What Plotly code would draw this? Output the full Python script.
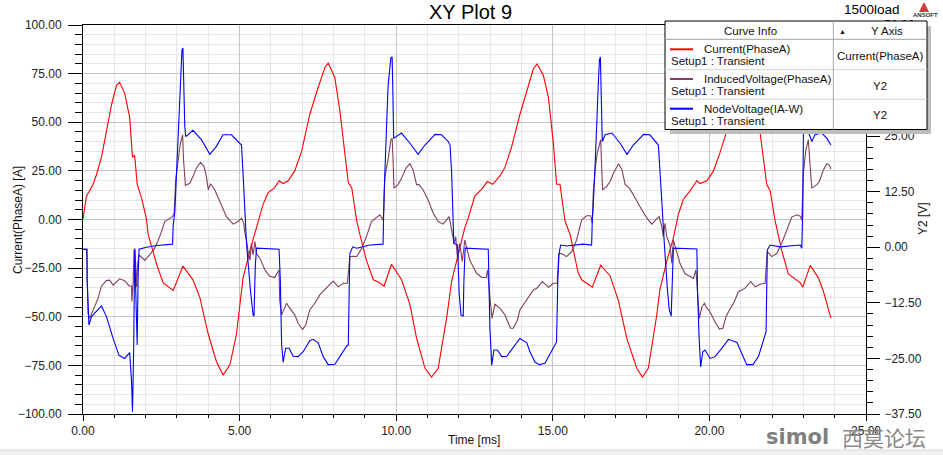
import plotly.graph_objects as go

# ---------------- data ----------------
time_current = [0.0, 0.03, 0.11, 0.32, 0.43, 0.59, 0.75, 0.91, 1.07, 1.17, 1.33, 1.49, 1.58, 1.65, 1.73, 1.87,
                2.03, 2.08, 2.35, 2.56, 2.88, 3.19, 3.51, 3.73, 4.0, 4.26, 4.47, 4.69, 4.9, 5.11, 5.33, 5.59,
                5.75, 5.91, 6.12, 6.26, 6.39, 6.55, 6.76, 6.98, 7.24, 7.51, 7.72, 7.83, 8.04, 8.2, 8.36, 8.47,
                8.58, 8.74, 8.84, 9.05, 9.27, 9.48, 9.61, 9.85, 10.17, 10.44, 10.65, 10.92, 11.13, 11.34, 11.61,
                11.77, 11.98, 12.19, 12.27, 12.45, 12.51, 12.73, 12.91, 13.08, 13.31, 13.47, 13.68, 13.95, 14.22,
                14.38, 14.5, 14.7, 14.86, 15.02, 15.12, 15.23, 15.39, 15.55, 15.81, 15.92, 16.26, 16.53, 16.83,
                17.1, 17.36, 17.68, 17.86, 18.05, 18.32, 18.42, 18.64, 18.85, 19.01, 19.17, 19.38, 19.6, 19.7,
                19.92, 20.13, 20.34, 20.56, 20.8, 21.0, 21.15, 21.25, 21.4, 21.62, 21.83, 21.94, 22.1, 22.31,
                22.52, 22.9, 22.98, 23.22, 23.48, 23.64, 23.75, 23.88]
current_phaseA = [0, 4, 12, 18, 23, 32, 46, 59, 69, 70.5, 65, 52.5, 32, 33, 18, 11,
                  0, -7.6, -23, -32.6, -36.5, -24, -31, -40, -59, -73, -80, -74.7, -59, -30, -16, -1,
                  7.8, 13.8, 16.4, 19.9, 18.5, 19.9, 25, 35, 54, 68, 78, 80.4, 73, 56, 35, 19,
                  16.4, -0.8, -7.6, -21, -31, -32.6, -34.3, -23, -31, -43.8, -61, -76.5, -81, -76.5, -50.7,
                  -31.7, -18, -4.2, -0.8, 9.5, 12, 15.6, 19.5, 18.1, 22.4, 26.7, 37, 54, 69,
                  77.5, 80, 74, 62.8, 38.8, 18.1, 18.1, -0.8, -7.6, -27.4, -31, -34.8, -23.5, -29,
                  -42, -61, -76.5, -81, -76.5, -49, -36, -21.4, -9.4, 2.7, 10.4, 14.7, 19.9, 18.5,
                  19.9, 25, 34.5, 45.7, 60, 72, 79, 80, 72, 45.7, 18.1, 14.7, -0.8, -16,
                  -28, -32.6, -34.8, -23.6, -30, -36.9, -43.8, -50.7]

time_induced = [0, 0.11, 0.13, 0.16, 0.21, 0.32, 0.48, 0.59, 0.75, 0.85, 0.96, 1.17, 1.33, 1.47, 1.55, 1.56,
                1.6, 1.63, 1.66, 1.71, 1.74, 1.79, 1.97, 2.13, 2.29, 2.45, 2.61, 2.77, 2.86, 2.91, 2.96, 3.04,
                3.11, 3.18, 3.21, 3.27, 3.41, 3.51, 3.62, 3.75, 3.86, 3.94, 4.0, 4.07, 4.21, 4.37, 4.58, 4.79,
                4.95, 5.06, 5.13, 5.17, 5.22, 5.27, 5.33, 5.38, 5.43, 5.49, 5.54, 5.65, 5.81, 5.96, 6.12, 6.26,
                6.28, 6.34, 6.41, 6.5, 6.6, 6.76, 6.87, 7.01, 7.11, 7.24, 7.4, 7.56, 7.78, 7.99, 8.15, 8.31,
                8.44, 8.47, 8.52, 8.63, 8.74, 8.9, 9.05, 9.21, 9.48, 9.58, 9.61, 9.64, 9.74, 9.83, 9.87, 9.9,
                9.93, 10.06, 10.17, 10.31, 10.44, 10.54, 10.65, 10.73, 10.86, 11.02, 11.18, 11.34, 11.5, 11.69,
                11.74, 11.79, 11.85, 11.9, 11.96, 12.03, 12.11, 12.19, 12.27, 12.35, 12.57, 12.73, 12.87, 12.92,
                12.96, 13.02, 13.06, 13.15, 13.31, 13.47, 13.65, 13.74, 13.87, 13.95, 14.17, 14.38, 14.49, 14.67,
                14.86, 15.02, 15.14, 15.19, 15.28, 15.44, 15.6, 15.76, 15.92, 16.08, 16.21, 16.26, 16.29, 16.35,
                16.42, 16.49, 16.53, 16.56, 16.59, 16.72, 16.83, 16.94, 17.1, 17.21, 17.31, 17.45, 17.63, 17.9,
                18.05, 18.16, 18.3, 18.4, 18.48, 18.53, 18.58, 18.64, 18.74, 18.8, 18.85, 18.96, 19.06, 19.22,
                19.38, 19.49, 19.57, 19.62, 19.68, 19.76, 19.84, 19.92, 20.02, 20.18, 20.32, 20.43, 20.53, 20.64,
                20.77, 20.93, 21.14, 21.32, 21.46, 21.62, 21.78, 21.82, 21.85, 21.99, 22.15, 22.31, 22.47, 22.63,
                22.79, 22.9, 22.95, 22.98, 23.0, 23.08, 23.16, 23.21, 23.27, 23.43, 23.51, 23.64, 23.75, 23.83, 23.88]
induced_voltage = [-0.45, -0.45, -4.4, -14.9, -16, -14.1, -11.5, -8.7, -7.5, -7.4, -8.5, -7.1, -7.5, -8.7, -8.7, -12.2,
                   -8.1, -0.6, -0.3, -8.9, -4, -1.7, -2.9, -1.7, -0.2, 2.4, 5.8, 6.5, 6.9, 7.7, 15.2, 19.7,
                   23.4, 25.3, 19.7, 13.9, 14.4, 15.9, 17.8, 19.1, 18.2, 15.9, 12.9, 14.3, 12.9, 10.3, 6.9, 5.2,
                   5.8, 6.5, 5.5, 3.2, 1.6, -1, -2.9, 0.9, -1.7, 1.3, -1.4, -2.5, -5.1, -6.5, -6.8, -5.1,
                   -11.9, -15.2, -14.1, -12.6, -13.7, -15.2, -17.1, -18.5, -17.5, -14.1, -12.6, -10.7, -9.1, -7.6, -8.9, -8.1,
                   -8.1, -5.9, -2.1, -2, -2.1, -0.2, 2.4, 5.8, 7.3, 6.1, 9.1, 15.9, 19.7, 24.2, 24.5, 19.7,
                   13.3, 14.1, 15.5, 17.8, 18.8, 17.4, 14.1, 14.1, 12.9, 10.65, 7.7, 5.8, 5.2, 6.9,
                   5, 3.2, 0.9, 2.4, -2.9, 0.9, -3.2, 1.6, -0.6, -2.9, -5.9, -6.8, -6.8, -5.1,
                   -8.9, -12.6, -16, -12.8, -13.7, -15.2, -18.2, -18.2, -16.4, -14.1, -11.9, -9.6, -9.2, -7.7,
                   -9, -8.1, -8.1, -1.4, -1.4, -2.1, -1, 1.6, 6.1, 7.1, 7.1, 5.4, 12.2, 17.4,
                   21.2, 23.6, 24.2, 18.2, 12.9, 13.7, 14.8, 16.7, 18.8, 17.4, 14.1, 13.3, 11, 7.7,
                   6.1, 5.2, 6.3, 6.9, 4.6, 2.4, 5.4, 2.4, 0.5, -3.6, 1.6, -1.4, -3.6, -5.9,
                   -6.6, -7, -5.1, -9.6, -16, -13.4, -12.6, -13.7, -14.5, -16.8, -18.4, -18.2, -15.6, -14.1,
                   -12.6, -10, -9.2, -7.7, -8.9, -8.3, -8.1, -3.6, -1, -2.1, -1.4, 0.9, 3.9, 6.8,
                   7.3, 7, 6.1, 11.4, 16.7, 21.9, 24.2, 18.9, 13.3, 14.1, 14.8, 17.4, 18.8, 18.5, 17.6]

time_node = [0, 0.13, 0.13, 0.16, 0.19, 0.27, 0.59, 0.75, 0.96, 1.15, 1.33, 1.49, 1.55, 1.58, 1.62, 1.65,
             1.71, 1.73, 1.76, 1.79, 2.03, 2.35, 2.86, 2.88, 2.93, 2.96, 3.0, 3.07, 3.11, 3.16, 3.19, 3.21,
             3.25, 3.28, 3.51, 3.78, 4.05, 4.26, 4.47, 4.74, 5.01, 5.06, 5.11, 5.14, 5.17, 5.22, 5.35, 5.43,
             5.46, 5.5, 5.54, 6.26, 6.3, 6.34, 6.39, 6.47, 6.58, 6.71, 6.87, 7.03, 7.24, 7.35, 7.51, 7.67,
             7.83, 8.04, 8.2, 8.42, 8.47, 8.49, 8.52, 8.61, 8.74, 9.16, 9.58, 9.61, 9.64, 9.69, 9.74, 9.83,
             9.87, 9.89, 9.92, 10.17, 10.44, 10.7, 10.92, 11.24, 11.45, 11.66, 11.72, 11.77, 11.82, 11.84, 11.96,
             12.01, 12.07, 12.14, 12.16, 12.2, 12.94, 12.96, 12.99, 13.05, 13.12, 13.23, 13.37, 13.53, 13.74,
             13.95, 14.17, 14.27, 14.43, 14.57, 14.75, 14.91, 15.12, 15.16, 15.2, 15.25, 15.44, 15.97, 16.24,
             16.26, 16.29, 16.35, 16.4, 16.45, 16.49, 16.52, 16.54, 16.58, 16.67, 16.89, 17.15, 17.37, 17.57,
             17.9, 18.1, 18.37, 18.42, 18.48, 18.53, 18.56, 18.66, 18.72, 18.78, 18.82, 18.85, 19.6, 19.62,
             19.67, 19.72, 19.79, 19.86, 20.02, 20.18, 20.4, 20.61, 20.88, 21.04, 21.19, 21.39, 21.57, 21.81,
             21.85, 21.94, 22.26, 22.9, 22.95, 22.98, 23.0, 23.04, 23.08, 23.12, 23.16, 23.27, 23.37, 23.59,
             23.75, 23.88]
node_voltage = [-0.45, -0.45, -7, -15.2, -17.5, -15.6, -13.2, -15.6, -20.5, -24.3, -25, -23.7, -30.3, -37, -22, -0.6,
                -15.6, -22, -6.6, -0.45, 0, 0.4, 0.7, 5, 7.7, 12.2, 19.7, 28.7, 36.2, 44.4, 44.8, 36.2,
                27.2, 24.9, 26.3, 24.2, 20.9, 22.7, 25.3, 25.3, 23.4, 23, 16.7, 12.2, 6.1, 0.9, -10, -15.2,
                -15.5, -4.4, -0.2, -0.45, -7.4, -21.6, -25.9, -22.7, -22.7, -24.5, -24.6, -23.5, -21, -20.7, -21.5, -24.6,
                -26.4, -26.3, -24.6, -22.2, -22, -13.4, -1.4, 0.1, -0.2, 0.5, 0.7, 11.4, 17.4, 28.7, 36.2, 42.6,
                42.8, 36.2, 24.5, 25.7, 23.4, 20.9, 23, 25.4, 25.3, 23.8, 23, 16.7, 6.1, 0.9, 0.5,
                -10.4, -15.2, -15.5, -8.1, -0.2, -0.45, -8.9, -17.9, -26.5, -23.1, -23.1, -24.6, -24.5, -22.4,
                -20.5, -21.5, -23.5, -25.8, -26.4, -26.1, -23.9, -21.3, -7.4, -1.4, 0.5, 0.3, 0.7, 0.5,
                6.1, 9.1, 18.1, 28.7, 36.2, 42.2, 42.8, 36.2, 23.8, 25.3, 25.7, 23.4, 20.9, 23,
                25.4, 25.3, 23, 17.4, 9.1, 3.9, 0.9, -9.6, -14.1, -15.5, -7.4, -0.2, -0.4, -9.6,
                -20.1, -26.9, -23.5, -23.1, -25, -24.6, -22.7, -20.7, -21.4, -23.9, -26.4, -26.4, -24.5, -19,
                -0.6, 0.5, 0.1, 0.5, -0.2, 8.4, 24.2, 36, 43, 36, 26, 23.8, 25.3, 25.7,
                24.5, 23]

curve_names = ["Current(PhaseA)", "InducedVoltage(PhaseA)", "NodeVoltage(IA-W)"]
curve_axes = ["Current(PhaseA)", "Y2", "Y2"]
curve_colors = ["#ff0000", "#7f3f62", "#0000ff"]

# ---------------- geometry helpers (pixels -> paper) ----------------
W, H = 943, 455
ML, MR, MT, MB = 83, 77, 25, 41
PW, PH = W - ML - MR, H - MT - MB


def px(x):
    return (x - ML) / PW


def py(y):
    return (H - MB - y) / PH


FONT = "Liberation Sans, Arial, Helvetica, sans-serif"

fig = go.Figure()
fig.add_trace(go.Scatter(x=time_current, y=current_phaseA, mode="lines", name=curve_names[0],
                         line=dict(color=curve_colors[0], width=1.1), yaxis="y"))
fig.add_trace(go.Scatter(x=time_induced, y=induced_voltage, mode="lines", name=curve_names[1],
                         line=dict(color=curve_colors[1], width=1.1), yaxis="y2"))
fig.add_trace(go.Scatter(x=time_node, y=node_voltage, mode="lines", name=curve_names[2],
                         line=dict(color=curve_colors[2], width=1.1), yaxis="y2"))

tickfont = dict(family=FONT, size=12, color="#222222")
major_grid = "#c4c4c4"
minor_grid = "#e6e6e6"

fig.update_layout(
    width=W, height=H,
    margin=dict(l=ML, r=MR, t=MT, b=MB),
    paper_bgcolor="white", plot_bgcolor="white",
    showlegend=False,
    font=dict(family=FONT, size=12, color="#222222"),
    xaxis=dict(range=[0, 25], tick0=0, dtick=5, tickformat=".2f", tickfont=tickfont,
               showline=True, linecolor="black", linewidth=1, mirror=True,
               ticks="outside", ticklen=6, tickcolor="black",
               showgrid=True, gridcolor=major_grid, gridwidth=1, zeroline=False,
               minor=dict(dtick=1, ticks="outside", ticklen=3, tickcolor="black",
                          showgrid=True, gridcolor=minor_grid)),
    yaxis=dict(range=[-100, 100], tick0=0, dtick=25, tickformat=".2f", tickfont=tickfont,
               showline=True, linecolor="black", linewidth=1,
               ticks="outside", ticklen=14, tickcolor="black", ticklabelstandoff=4,
               showgrid=True, gridcolor=major_grid, gridwidth=1, zeroline=False,
               minor=dict(dtick=5, ticks="outside", ticklen=7, tickcolor="black",
                          showgrid=True, gridcolor=minor_grid)),
    yaxis2=dict(range=[-37.5, 50], tick0=0, dtick=12.5, tickformat=".2f", tickfont=tickfont,
                overlaying="y", side="right", anchor="x",
                showline=True, linecolor="black", linewidth=1,
                ticks="outside", ticklen=13, tickcolor="black", ticklabelstandoff=2,
                showgrid=False, zeroline=False,
                minor=dict(dtick=2.5, ticks="outside", ticklen=6, tickcolor="black", showgrid=False)),
)

shapes = []
annotations = []


def text(x, y, s, size=12, anchor="center", color="#111111", angle=0, family=FONT):
    annotations.append(dict(x=px(x), y=py(y), xref="paper", yref="paper", text=s, showarrow=False,
                            xanchor=anchor, yanchor="middle", textangle=angle,
                            font=dict(family=family, size=size, color=color)))


def rect(x0, y0, x1, y1, fill, line=None, lw=0):
    shapes.append(dict(type="rect", xref="paper", yref="paper", x0=px(x0), x1=px(x1), y0=py(y1), y1=py(y0),
                       fillcolor=fill, line=dict(color=line or fill, width=lw), layer="above"))


def hline(x0, x1, y, color, width=1):
    shapes.append(dict(type="line", xref="paper", yref="paper", x0=px(x0), x1=px(x1), y0=py(y), y1=py(y),
                       line=dict(color=color, width=width), layer="above"))


def vline(x, y0, y1, color, width=1):
    shapes.append(dict(type="line", xref="paper", yref="paper", x0=px(x), x1=px(x), y0=py(y0), y1=py(y1),
                       line=dict(color=color, width=width), layer="above"))


# titles
text(470, 12, "XY Plot 9", size=20, color="#000000")
text(872, 10, "1500load", size=13.5, color="#000000")
text(18, 220, "Current(PhaseA) [A]", size=12, angle=-90)
text(923, 219, "Y2 [V]", size=12, angle=-90)
text(474, 440, "Time [ms]", size=12)

# ANSOFT logo
shapes.append(dict(type="path", xref="paper", yref="paper",
                   path=f"M {px(919)} {py(12)} L {px(929)} {py(12)} L {px(924)} {py(2)} Z",
                   fillcolor="#d23a3a", line=dict(color="#d23a3a", width=0), layer="above"))
text(925, 15.5, "<b>ANSOFT</b>", size=6, color="#333333")

# legend table
rect(670, 26, 931, 134, "#bdbdbd")
rect(665, 21, 927, 129.5, "white", "black", 1)
hline(665, 927, 39.3, "#a0a0a0")
hline(665, 927, 69.7, "#d2d2d2")
hline(665, 927, 99.3, "#d2d2d2")
vline(833.3, 21, 129.5, "#a8a8a8")
text(750, 31, "Curve Info", size=11.5)
text(842, 31, "▲", size=7)
text(887, 31, "Y Axis", size=11.5)
row_y = [49.3, 79, 108.7]
for i in range(3):
    hline(670, 693, row_y[i], curve_colors[i], 2)
    text(701.5, row_y[i], curve_names[i], size=11.5, anchor="left")
    text(669, row_y[i] + 12, "Setup1 : Transient", size=11.5, anchor="left")
    text(880, row_y[i] + 6.5, curve_axes[i], size=11.5)

# watermark
text(797, 437, "<b>simol</b>", size=21, color="#808080", family="DejaVu Sans, sans-serif")
text(884, 437, "西莫论坛", size=21, color="#8a8a8a", family="Noto Sans CJK SC, sans-serif")

# bottom strip
rect(0, 450, 943, 455, "#f0f0f0")
hline(0, 943, 450, "#d8d8d8")

fig.update_layout(shapes=shapes, annotations=annotations)
fig.write_html("out.html")
